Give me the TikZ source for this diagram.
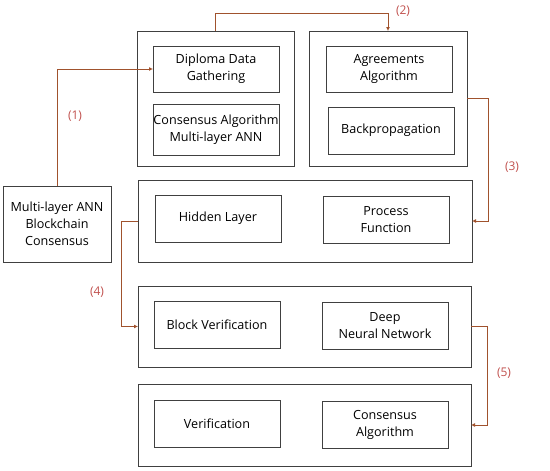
\documentclass[tikz,border=0pt]{standalone}
\usepackage{fontspec}
\setmainfont{Open Sans}
\usetikzlibrary{arrows.meta}

\definecolor{boxline}{HTML}{404040}
\definecolor{flowline}{HTML}{A0522D}
\definecolor{steplabel}{HTML}{C0504D}

\begin{document}
	\begin{tikzpicture}[
		x=1pt, y=-1pt,
		group/.style={draw=boxline, line width=1pt, inner sep=0pt, outer sep=0pt},
		item/.style={draw=boxline, line width=1pt, inner sep=0pt, outer sep=0pt,
			minimum width=126pt, minimum height=47pt, align=center,
			font=\fontsize{12.6}{17}\selectfont},
		flow/.style={draw=flowline, line width=0.8pt, -{Latex[length=4pt,width=4pt]}},
		steptag/.style={text=steplabel, font=\fontsize{12}{14}\selectfont}
		]
		
		\useasboundingbox (0,0) rectangle (550,471);
		
		% upper groups
		\node[group, minimum width=157pt, minimum height=135pt] (gather) at (215.5,98.5) {};
		\node[item, minimum height=46pt] (diploma) at (216,69) {Diploma Data\\Gathering};
		\node[item, minimum height=51pt] (consann) at (216,129.5) {Consensus Algorithm\\Multi-layer ANN};
		
		\node[group, minimum width=158pt, minimum height=135pt] (agreegrp) at (388,98.5) {};
		\node[item, minimum height=46pt] (agree) at (389,69) {Agreements\\Algorithm};
		\node[item] (backprop) at (391,130.5) {Backpropagation};
		
		% input
		\node[item, minimum width=108pt, minimum height=76pt] (ann) at (57,224) {Multi-layer ANN\\Blockchain\\Consensus};
		
		% lower rows
		\node[group, minimum width=334pt, minimum height=82pt] (hiddenrow) at (305,221) {};
		\node[item] (hidden) at (218,218.5) {Hidden Layer};
		\node[item] (process) at (386,219.5) {Process\\Function};
		
		\node[group, minimum width=333pt, minimum height=81pt] (blockrow) at (304.5,326.5) {};
		\node[item] (blockver) at (217,324.5) {Block Verification};
		\node[item] (dnn) at (385,325.5) {Deep\\Neural Network};
		
		\node[group, minimum width=333pt, minimum height=82pt] (verifrow) at (304.5,425) {};
		\node[item] (verif) at (217,423.5) {Verification};
		\node[item] (consalg) at (385,424.5) {Consensus\\Algorithm};
		
		% connectors
		\draw[flow] (ann.north) |- (diploma.west);
		\draw[flow] (gather.north) -- ++(0,-18) -| (agreegrp.north);
		\draw[flow] (agreegrp.east) -- ++(21,0) |- (hiddenrow.east);
		\draw[flow] (hiddenrow.west) -- ++(-17,0) |- (blockrow.west);
		\draw[flow] (blockrow.east) -- ++(16,0) |- (verifrow.east);
		
		% step labels
		\node[steptag] (s1) at (75,116) {(1)};
		\node[steptag] (s2) at (403,11) {(2)};
		\node[steptag] (s3) at (512,167) {(3)};
		\node[steptag] (s4) at (97,292) {(4)};
		\node[steptag] (s5) at (504,373) {(5)};
		
	\end{tikzpicture}
\end{document}
